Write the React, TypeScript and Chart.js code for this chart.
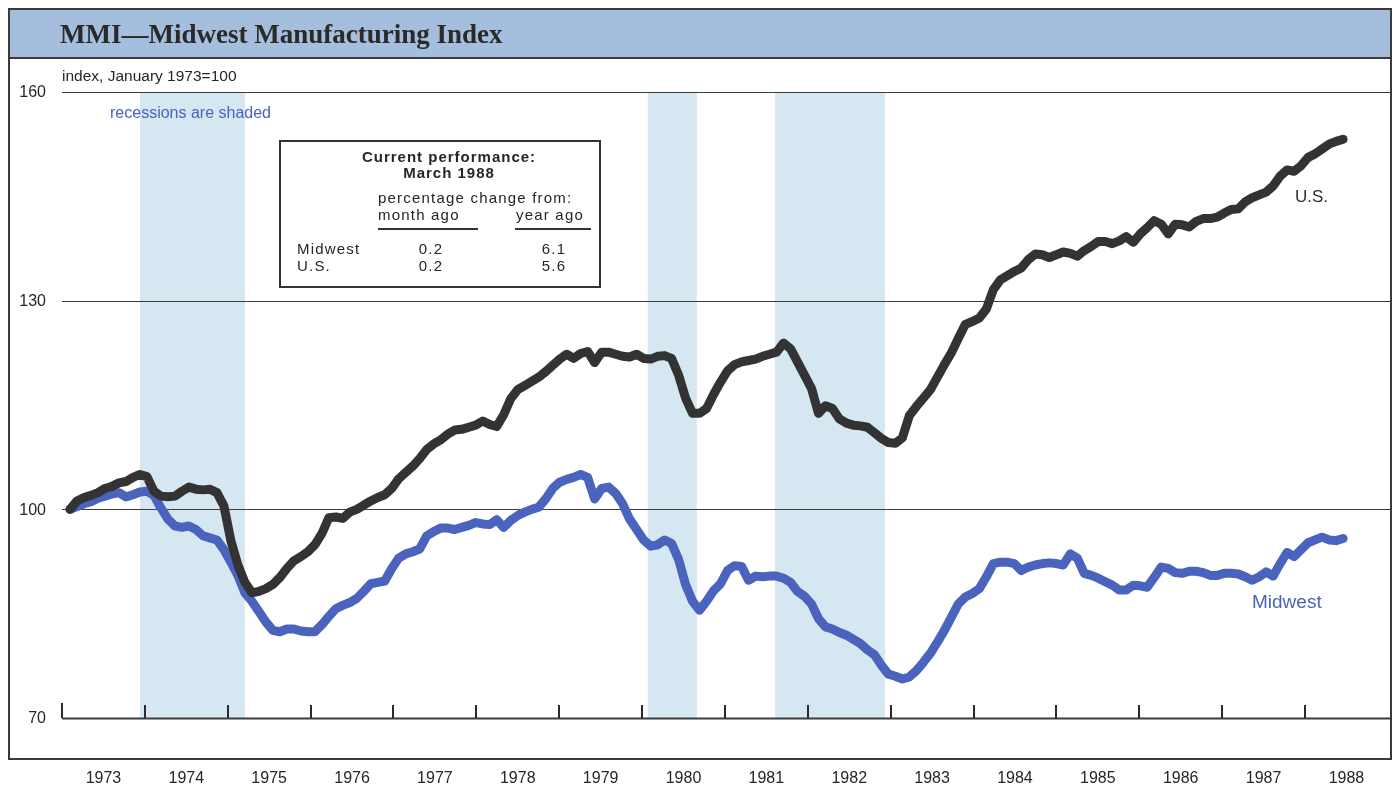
import React, { useEffect, useRef } from "react";
import { Chart, registerables } from "chart.js";

Chart.register(...registerables);

// Monthly index values, January 1973 = 100 (Jan 1973 .. Mar 1988)
const usIndex: number[] = [
  100, 101.2, 101.7, 102.0, 102.4, 103.0, 103.3, 103.8, 104.0, 104.6,
  105.0, 104.7, 102.6, 101.9, 101.8, 101.9, 102.6, 103.2, 102.9, 102.8,
  102.9, 102.4, 100.5, 95.5, 92.0, 89.5, 88.0, 88.2, 88.6, 89.2,
  90.2, 91.5, 92.6, 93.2, 93.9, 94.9, 96.5, 98.8, 98.9, 98.7,
  99.6, 100.0, 100.6, 101.2, 101.7, 102.1, 103.0, 104.4, 105.3, 106.2,
  107.3, 108.6, 109.4, 110.0, 110.8, 111.4, 111.5, 111.8, 112.1, 112.7,
  112.2, 111.9, 113.6, 115.9, 117.2, 117.8, 118.4, 119.0, 119.8, 120.7,
  121.6, 122.3, 121.7, 122.4, 122.7, 121.1, 122.6, 122.6, 122.3, 122.0,
  121.9, 122.3, 121.7, 121.6, 122.0, 122.1, 121.7, 119.3, 116.0, 113.8,
  113.8, 114.5, 116.5, 118.3, 119.9, 120.8, 121.2, 121.4, 121.6, 122.0,
  122.3, 122.6, 123.9, 123.1, 121.2, 119.3, 117.4, 113.8, 114.9, 114.5,
  113.0, 112.4, 112.1, 112.0, 111.8, 111.0, 110.2, 109.6, 109.5, 110.3,
  113.5, 114.8, 116.0, 117.2, 119.0, 120.8, 122.5, 124.6, 126.6, 127.0,
  127.5, 128.8, 131.6, 133.0, 133.6, 134.2, 134.7, 135.9, 136.7, 136.6,
  136.2, 136.6, 137.0, 136.8, 136.4, 137.2, 137.8, 138.5, 138.5, 138.2,
  138.6, 139.2, 138.4, 139.6, 140.5, 141.5, 141.0, 139.6, 141.0, 140.9,
  140.6, 141.4, 141.8, 141.8, 142.0, 142.6, 143.1, 143.2, 144.2, 144.8,
  145.2, 145.6, 146.5, 147.9, 148.8, 148.6, 149.4, 150.6, 151.1, 151.8,
  152.5, 152.9, 153.2,
];

const midwestIndex: number[] = [
  100, 100.4, 100.8, 101.1, 101.6, 101.9, 102.2, 102.4, 101.8, 102.1,
  102.5, 102.6, 102.0, 100.2, 98.6, 97.6, 97.4, 97.6, 97.1, 96.2,
  95.9, 95.6, 94.2, 92.4, 90.5, 88.0, 86.8, 85.3, 83.8, 82.6,
  82.4, 82.8, 82.8, 82.5, 82.4, 82.4, 83.4, 84.6, 85.7, 86.2,
  86.6, 87.2, 88.2, 89.3, 89.5, 89.7, 91.5, 93.0, 93.6, 93.9,
  94.3, 96.2, 96.8, 97.3, 97.3, 97.1, 97.4, 97.7, 98.1, 97.9,
  97.8, 98.5, 97.4, 98.4, 99.1, 99.6, 100.0, 100.3, 101.5, 103.0,
  103.9, 104.3, 104.6, 105.0, 104.6, 101.5, 103.0, 103.2, 102.3, 100.8,
  98.6, 97.1, 95.6, 94.7, 94.9, 95.6, 95.1, 92.8, 89.2, 86.8,
  85.5, 86.8, 88.3, 89.3, 91.2, 91.9, 91.8, 89.8, 90.4, 90.3,
  90.4, 90.4, 90.1, 89.5, 88.2, 87.5, 86.4, 84.3, 83.1, 82.8,
  82.3, 81.9, 81.3, 80.7, 79.8, 79.1, 77.6, 76.3, 76.0, 75.6,
  75.9, 76.8, 78.0, 79.3, 80.9, 82.6, 84.5, 86.4, 87.4, 87.9,
  88.6, 90.3, 92.2, 92.4, 92.4, 92.2, 91.2, 91.7, 92.0, 92.2,
  92.3, 92.2, 92.0, 93.6, 93.0, 90.8, 90.5, 90.1, 89.6, 89.1,
  88.4, 88.4, 89.1, 89.0, 88.8, 90.2, 91.7, 91.5, 90.9, 90.8,
  91.1, 91.1, 90.9, 90.5, 90.5, 90.8, 90.8, 90.7, 90.3, 89.8,
  90.3, 91.0, 90.4, 92.2, 93.8, 93.2, 94.2, 95.2, 95.6, 96.0,
  95.6, 95.5, 95.8,
];

// months since January 1973
const monthIndex: number[] = usIndex.map((_, i) => i);

const years: number[] = [1973, 1974, 1975, 1976, 1977, 1978, 1979, 1980, 1981, 1982, 1983, 1984, 1985, 1986, 1987, 1988];
const yearLabels: string[] = years.map((y) => String(y));
const yTicks: number[] = [70, 100, 130, 160];

// recession periods, in months since January 1973 (start, end)
const recessionStarts: number[] = [10, 82.6, 100.8];
const recessionEnds: number[] = [25, 89.6, 116.5];

const titleText = "MMI\u2014Midwest Manufacturing Index";
const unitText = "index, January 1973=100";
const recessionText = "recessions are shaded";

const tableRowNames: string[] = ["Midwest", "U.S."];
const tableMonthAgo: string[] = ["0.2", "0.2"];
const tableYearAgo: string[] = ["6.1", "5.6"];

const US_COLOR = "#333333";
const MW_COLOR = "#4a63bd";
const SHADE = "rgb(213,231,240)";
const BAND = "rgb(166,190,222)";
const INK = "#262626";
const SANS = "'Liberation Sans', Arial, sans-serif";

const W = 1394;
const H = 793;

const decorPlugin = {
  id: "decor",
  beforeDraw(chart: any) {
    const ctx = chart.ctx;
    ctx.save();
    ctx.fillStyle = "#ffffff";
    ctx.fillRect(0, 0, W, H);
    ctx.restore();
  },
  beforeDatasetsDraw(chart: any) {
    const ctx = chart.ctx;
    const x = chart.scales.x;
    const y = chart.scales.y;
    const area = chart.chartArea;
    ctx.save();
    // recession shading
    ctx.fillStyle = SHADE;
    for (let i = 0; i < recessionStarts.length; i++) {
      const x0 = x.getPixelForValue(recessionStarts[i]);
      const x1 = x.getPixelForValue(recessionEnds[i]);
      const yTop = y.getPixelForValue(160);
      const yBot = y.getPixelForValue(70);
      ctx.fillRect(x0, yTop, x1 - x0, yBot - yTop);
    }
    // horizontal grid lines
    for (const t of yTicks) {
      const py = Math.round(y.getPixelForValue(t)) + 0.5;
      ctx.strokeStyle = "#3c3c3c";
      ctx.lineWidth = t === 70 ? 2 : 1.2;
      ctx.beginPath();
      ctx.moveTo(area.left, py);
      ctx.lineTo(area.right, py);
      ctx.stroke();
    }
    // y labels
    ctx.fillStyle = INK;
    ctx.font = `16px ${SANS}`;
    ctx.textAlign = "right";
    ctx.textBaseline = "middle";
    for (const t of yTicks) {
      ctx.fillText(String(t), 46, y.getPixelForValue(t) + 1);
    }
    // year ticks and labels
    const xy = chart.scales.xYear;
    const base = y.getPixelForValue(70);
    ctx.strokeStyle = "#2a2a2a";
    ctx.lineWidth = 2;
    years.forEach((yr, i) => {
      const px = Math.round(xy.getPixelForValue(yr));
      ctx.beginPath();
      ctx.moveTo(px, base);
      ctx.lineTo(px, base - (i === 0 ? 15 : 13));
      ctx.stroke();
    });
    ctx.textAlign = "center";
    ctx.font = `16px ${SANS}`;
    ctx.fillStyle = INK;
    years.forEach((yr, i) => {
      ctx.fillText(yearLabels[i], xy.getPixelForValue(yr + 0.5), 779);
    });
    ctx.restore();
  },
  afterDraw(chart: any) {
    const ctx = chart.ctx;
    ctx.save();
    // title band
    ctx.fillStyle = BAND;
    ctx.fillRect(9, 9, 1382, 49);
    ctx.strokeStyle = "#3a3a3a";
    ctx.lineWidth = 2;
    ctx.beginPath();
    ctx.moveTo(9, 9);
    ctx.lineTo(1391, 9);
    ctx.moveTo(9, 58);
    ctx.lineTo(1391, 58);
    ctx.moveTo(9, 8);
    ctx.lineTo(9, 760);
    ctx.moveTo(1391, 8);
    ctx.lineTo(1391, 760);
    ctx.moveTo(8, 759);
    ctx.lineTo(1392, 759);
    ctx.stroke();

    ctx.fillStyle = "#2a2a2a";
    ctx.font = `bold 27px 'Liberation Serif', 'Times New Roman', serif`;
    ctx.textAlign = "left";
    ctx.textBaseline = "alphabetic";
    ctx.fillText(titleText, 60, 43);

    // axis unit note
    ctx.textBaseline = "middle";
    ctx.font = `15.5px ${SANS}`;
    ctx.fillStyle = INK;
    ctx.fillText(unitText, 62, 77);
    ctx.font = `16px ${SANS}`;
    ctx.fillStyle = MW_COLOR;
    ctx.fillText(recessionText, 110, 114);

    // series labels
    ctx.font = `17px ${SANS}`;
    ctx.fillStyle = "#2f2f2f";
    ctx.fillText("U.S.", 1295, 197);
    ctx.font = `19px ${SANS}`;
    ctx.fillStyle = MW_COLOR;
    ctx.fillText("Midwest", 1252, 603);

    // inset table
    const bx = 280, by = 141, bw = 320, bh = 146;
    ctx.fillStyle = "#ffffff";
    ctx.fillRect(bx, by, bw, bh);
    ctx.strokeStyle = "#333";
    ctx.lineWidth = 2;
    ctx.strokeRect(bx, by, bw, bh);

    ctx.fillStyle = INK;
    (ctx as any).letterSpacing = "1px";
    ctx.font = `bold 15px ${SANS}`;
    ctx.textAlign = "center";
    ctx.fillText("Current performance:", 449, 158);
    ctx.fillText("March 1988", 449, 174);

    (ctx as any).letterSpacing = "1.2px";
    ctx.font = `15px ${SANS}`;
    ctx.textAlign = "left";
    ctx.fillText("percentage change from:", 378, 199);
    ctx.fillText("month ago", 378, 216);
    ctx.fillText("year ago", 516, 216);

    ctx.lineWidth = 2;
    ctx.beginPath();
    ctx.moveTo(378, 229);
    ctx.lineTo(478, 229);
    ctx.moveTo(515, 229);
    ctx.lineTo(591, 229);
    ctx.stroke();

    const rowY = [250, 267];
    tableRowNames.forEach((name, i) => {
      ctx.textAlign = "left";
      ctx.fillText(name, 297, rowY[i]);
      ctx.textAlign = "center";
      ctx.fillText(tableMonthAgo[i], 431, rowY[i]);
      ctx.fillText(tableYearAgo[i], 554, rowY[i]);
    });
    (ctx as any).letterSpacing = "0px";
    ctx.restore();
  },
};

export default function App() {
  const canvasRef = useRef<HTMLCanvasElement | null>(null);

  useEffect(() => {
    const canvas = canvasRef.current;
    if (!canvas) return;
    const chart = new Chart(canvas, {
      type: "line",
      data: {
        datasets: [
          {
            label: "U.S.",
            data: usIndex.map((v, i) => ({ x: monthIndex[i], y: v })),
            borderColor: US_COLOR,
            borderWidth: 9,
            pointRadius: 0,
            tension: 0,
            borderJoinStyle: "round",
            borderCapStyle: "round",
            fill: false,
            order: 0,
          },
          {
            label: "Midwest",
            data: midwestIndex.map((v, i) => ({ x: monthIndex[i], y: v })),
            borderColor: MW_COLOR,
            borderWidth: 9,
            pointRadius: 0,
            tension: 0,
            borderJoinStyle: "round",
            borderCapStyle: "round",
            fill: false,
            order: 1,
          },
        ],
      },
      options: {
        responsive: false,
        animation: false,
        devicePixelRatio: 1,
        layout: { padding: { left: 62, right: 2, top: 92, bottom: 75 } },
        plugins: {
          legend: { display: false },
          tooltip: { enabled: false },
          title: { display: false },
        },
        events: [],
        scales: {
          x: { type: "linear", min: -1.144, max: 188.99, display: false },
          xYear: { type: "linear", axis: "x", position: "bottom", min: 1973, max: 1989.05, display: false },
          y: { type: "linear", min: 70, max: 160, display: false },
        },
      },
      plugins: [decorPlugin],
    });
    return () => chart.destroy();
  }, []);

  return (
    <div style={{ position: "absolute", left: 0, top: 0, width: W, height: H, background: "#fff" }}>
      <canvas ref={canvasRef} width={W} height={H} style={{ display: "block", width: W, height: H }} />
    </div>
  );
}
